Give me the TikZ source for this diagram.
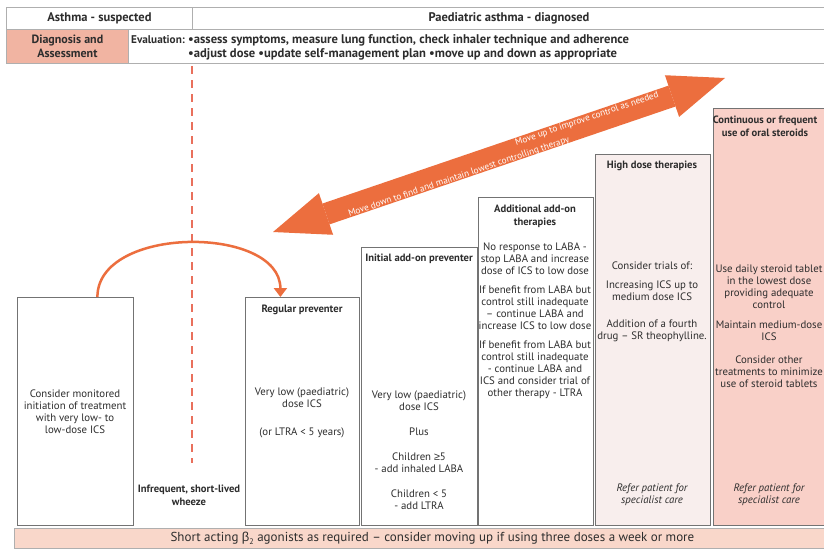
\documentclass[tikz,border=0pt]{standalone}
\usepackage{fontspec}
\setmainfont{PT Sans}
\newfontfamily\symfont{Liberation Sans}
\usetikzlibrary{arrows.meta}
\definecolor{stepsorange}{RGB}{236,110,62}
\definecolor{dashred}{RGB}{233,112,92}
\definecolor{salmon}{RGB}{241,180,162}
\definecolor{steroidpink}{RGB}{249,208,200}
\definecolor{highpink}{RGB}{248,238,237}
\definecolor{barpink}{RGB}{249,215,202}
\definecolor{boxgray}{RGB}{115,115,115}
\definecolor{linegray}{RGB}{175,175,175}
\definecolor{inkgray}{RGB}{45,45,45}

\tikzset{
  stepbox/.style={draw=boxgray, line width=0.8pt, anchor=north west, inner sep=0pt},
  headcell/.style={draw=linegray, line width=0.8pt, anchor=north west, inner sep=0pt,
    text=inkgray, font=\bfseries\fontsize{12.5}{14}\selectfont},
  headtext/.style={inner sep=0pt, text=inkgray, font=\bfseries\fontsize{12.5}{14}\selectfont},
  evaltext/.style={anchor=west, inner sep=0pt, text=inkgray, font=\bfseries\fontsize{12.6}{14}\selectfont},
  title/.style={align=center, inner sep=0pt, text=inkgray, font=\bfseries\fontsize{10.6}{13}\selectfont},
  body/.style={align=center, inner sep=0pt, text=inkgray, font=\fontsize{10.8}{12}\selectfont},
  refer/.style={body, font=\itshape\fontsize{10.8}{12}\selectfont},
  arrowtext/.style={text=white, inner sep=0pt, rotate=18.8, font=\fontsize{9.2}{10}\selectfont},
}

\begin{document}
\begin{tikzpicture}[x=1pt, y=-1pt]
    \clip (0,0) rectangle (824,550);
    \fill[white] (0,0) rectangle (824,550);

    % Draw the header rows
    \node[headcell, minimum width=186pt, minimum height=22pt] (suspected) at (6,7) {Asthma - suspected};
    \node[headcell, minimum width=640pt, minimum height=22pt] (diagnosed) at (192,7) {};
    \node[headtext] (diagnosedtext) at (509,18) {Paediatric asthma - diagnosed};
    \node[headcell, fill=salmon, minimum width=122pt, minimum height=34pt, align=center,
      font=\bfseries\fontsize{12}{14.5}\selectfont] (assess) at (6,29) {Diagnosis and\\Assessment};
    \node[headcell, minimum width=704pt, minimum height=34pt] (evaluation) at (128,29) {};
    \node[evaltext, font=\bfseries\fontsize{11.2}{13}\selectfont] (evlabel) at (131,40) {Evaluation:};
    \node[evaltext] (evline1) at (188,40) {•assess symptoms, measure lung function, check inhaler technique and adherence};
    \node[evaltext] (evline2) at (188,54) {•adjust dose •update self-management plan •move up and down as appropriate};

    % Draw the dashed divider between suspected and diagnosed
    \coordinate (dashtop) at (192,66);
    \coordinate (dashbot) at (192,463);
    \draw[dashred, line width=2pt, dash pattern=on 8pt off 6pt] (dashtop) -- (dashbot);

    % Draw the steps
    \node[stepbox, minimum width=116pt, minimum height=228pt] (monitor) at (17,297) {};
    \node[body] (monitortext) at (75,412) {Consider monitored\\initiation of treatment\\with very low- to\\low-dose ICS};
    \node[title] (wheeze) at (189,495) {Infrequent, short-lived\\wheeze};

    \node[stepbox, minimum width=114pt, minimum height=228pt] (regular) at (245,297) {};
    \node[title] (regulartitle) at (302,310) {Regular preventer};
    \node[body] (regulartext) at (302,413) {Very low (paediatric)\\dose ICS\\[16pt](or  LTRA < 5 years)};

    \node[stepbox, minimum width=116pt, minimum height=278pt] (initial) at (361,247) {};
    \node[title] (initialtitle) at (419,259) {Initial add-on preventer};
    \node[body] (initialtext) at (419,450) {Very low (paediatric)\\dose ICS\\[13pt]Plus\\[13pt]Children {\symfont ≥}5\\- add inhaled LABA\\[13pt]Children < 5\\ - add LTRA};

    \node[stepbox, minimum width=115pt, minimum height=328pt] (additional) at (478,197) {};
    \node[title] (additionaltitle) at (535,216) {Additional add-on\\therapies};
    \node[body] (additionaltext) at (535,321) {No response to LABA -\\stop LABA and increase\\dose of ICS to low dose\\[7pt]If benefit from LABA but\\control still inadequate\\– continue LABA and\\increase ICS to low dose\\[7pt]If benefit from LABA but\\control still inadequate\\- continue LABA and\\ICS and consider trial of\\other therapy - LTRA};

    \node[stepbox, fill=highpink, minimum width=115pt, minimum height=371pt] (high) at (595,154) {};
    \node[title] (hightitle) at (652,166) {High dose therapies};
    \node[body] (hightext) at (652,302) {Consider trials of:\\[7pt]Increasing ICS up to\\medium dose ICS\\[15pt]Addition of a fourth\\drug – SR theophylline.};
    \node[refer] (highrefer) at (652,495) {Refer patient for\\specialist care};

    \node[stepbox, fill=steroidpink, minimum width=125pt, minimum height=417pt] (oral) at (713,108) {};
    \node[title] (oraltitle) at (765,126) {Continuous or frequent\\use of oral steroids};
    \node[body] (oraltext) at (769,326) {Use daily steroid tablet\\in the lowest dose\\providing adequate\\control\\[8pt]Maintain medium-dose\\ICS\\[11pt]Consider other\\treatments to minimize\\use of steroid tablets};
    \node[refer] (oralrefer) at (769,495) {Refer patient for\\specialist care};

    % Draw the reliever bar
    \node[stepbox, draw=linegray, fill=barpink, minimum width=836pt, minimum height=20pt,
      text=inkgray, font=\fontsize{13}{14}\selectfont] (reliever) at (14,528)
      {Short acting {\symfont β}\raisebox{-0.4ex}{\footnotesize 2} agonists as required – consider moving up if using three doses a week or more};

    % Draw the arrow from the trial to the regular preventer
    \draw[stepsorange, line width=2.5pt, -{Triangle[length=9pt, width=13pt]}]
      ([xshift=22pt]monitor.north) .. controls +(0,-72) and +(0,-72) .. ([xshift=-22pt]regular.north);

    % Draw the big up and down arrow
    \coordinate (downtip) at (273,232);
    \coordinate (uptip) at (725,78);
    \draw[stepsorange, line width=22pt,
      {Triangle[length=56pt, width=44pt, line width=0pt]}-{Triangle[length=56pt, width=44pt, line width=0pt]}]
      (downtip) -- (uptip);
    \node[arrowtext] (moveup) at (587,119) {Move up to improve control as needed};
    \node[arrowtext] (movedown) at (459,177) {Move down to find and maintain lowest controlling therapy};
\end{tikzpicture}
\end{document}
